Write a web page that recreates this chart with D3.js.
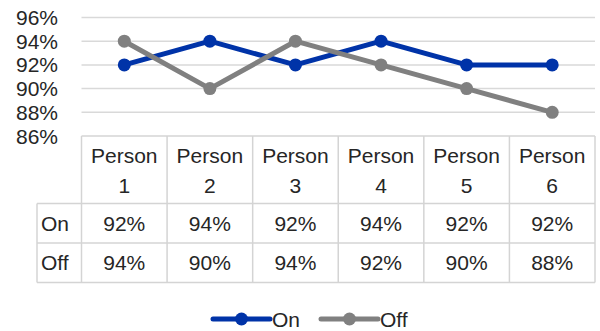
<!DOCTYPE html>
<html>
<head>
<meta charset="utf-8">
<script src="https://d3js.org/d3.v7.min.js"></script>
<style>
body { margin: 0; background: #fff; }
text { font-family: "Liberation Sans", Arial, sans-serif; fill: #262626; }
</style>
</head>
<body>
<svg id="chart"></svg>
<script>
// data
var persons = ["Person 1", "Person 2", "Person 3", "Person 4", "Person 5", "Person 6"];
var onVals = [92, 94, 92, 94, 92, 92];
var offVals = [94, 90, 94, 92, 90, 88];
var yTicks = [86, 88, 90, 92, 94, 96];
var series = [
	{ name: "On", values: onVals, color: "#0033a8" },
	{ name: "Off", values: offVals, color: "#808080" }
];

var w = 600, h = 331;
var left = 81.5, right = 595;
var plotTop = 17.5, plotBottom = 136;
var headBottom = 203.5, rowH = 39.5;
var labelLeft = 37;
var fs = 21;

var svg = d3.select("#chart").attr("width", w).attr("height", h);

var x = d3.scaleBand().domain(persons).range([left, right]);
var y = d3.scaleLinear().domain([86, 96]).range([plotBottom, plotTop]);

// gridlines
svg.append("g").selectAll("line").data(yTicks.slice(1)).join("line")
	.attr("x1", left).attr("x2", right)
	.attr("y1", d => y(d)).attr("y2", d => y(d))
	.attr("stroke", "#d9d9d9").attr("stroke-width", 1.5);

// y labels
svg.append("g").selectAll("text").data(yTicks).join("text")
	.attr("x", 58).attr("y", d => y(d)).attr("dy", "0.36em")
	.attr("text-anchor", "end").attr("font-size", fs)
	.text(d => d + "%");

// table
var tg = svg.append("g");
var bc = "#d4d4d4";
var tBottom = headBottom + rowH * 2;
tg.append("line").attr("x1", left).attr("x2", right).attr("y1", plotBottom).attr("y2", plotBottom).attr("stroke", bc).attr("stroke-width", 1.5);
[headBottom, headBottom + rowH, tBottom].forEach(function(yy) {
	tg.append("line").attr("x1", labelLeft).attr("x2", right).attr("y1", yy).attr("y2", yy).attr("stroke", bc).attr("stroke-width", 1.5);
});
var xs = persons.map(p => x(p)).concat([right]);
tg.selectAll(".v").data(xs).join("line")
	.attr("x1", d => d).attr("x2", d => d)
	.attr("y1", plotBottom).attr("y2", tBottom)
	.attr("stroke", bc).attr("stroke-width", 1.5);
tg.append("line").attr("x1", labelLeft).attr("x2", labelLeft).attr("y1", headBottom).attr("y2", tBottom).attr("stroke", bc).attr("stroke-width", 1.5);

// header text
persons.forEach(function(p) {
	var parts = p.split(" ");
	var cx = x(p) + x.bandwidth() / 2;
	var t = tg.append("text").attr("text-anchor", "middle").attr("font-size", fs);
	t.append("tspan").attr("x", cx).attr("y", 163).text(parts[0]);
	t.append("tspan").attr("x", cx).attr("y", 193).text(parts[1]);
});

// rows
series.forEach(function(s, i) {
	var ry = headBottom + rowH * i + rowH / 2;
	tg.append("text").attr("x", labelLeft + 4).attr("y", ry).attr("dy", "0.36em")
		.attr("font-size", fs).text(s.name);
	tg.selectAll(".c" + i).data(s.values).join("text")
		.attr("x", (d, j) => x(persons[j]) + x.bandwidth() / 2)
		.attr("y", ry).attr("dy", "0.36em")
		.attr("text-anchor", "middle").attr("font-size", fs)
		.text(d => d + "%");
});

// lines (On first, Off drawn on top)
var line = d3.line().x((d, i) => x(persons[i]) + x.bandwidth() / 2).y(d => y(d));
series.forEach(function(s) {
	var g = svg.append("g");
	g.append("path").attr("d", line(s.values)).attr("fill", "none")
		.attr("stroke", s.color).attr("stroke-width", 5).attr("stroke-linejoin", "round");
	g.selectAll("circle").data(s.values).join("circle")
		.attr("cx", (d, i) => x(persons[i]) + x.bandwidth() / 2)
		.attr("cy", d => y(d)).attr("r", 6.5).attr("fill", s.color);
});

// legend
var lx = [213, 321];
series.forEach(function(s, i) {
	var g = svg.append("g").attr("transform", "translate(" + lx[i] + ",319)");
	g.append("line").attr("x1", 0).attr("x2", 57).attr("stroke", s.color).attr("stroke-width", 5).attr("stroke-linecap", "round");
	g.append("circle").attr("cx", 28.5).attr("r", 6.5).attr("fill", s.color);
	g.append("text").attr("x", 59).attr("dy", "0.36em").attr("font-size", fs).text(s.name);
});
</script>
</body>
</html>
